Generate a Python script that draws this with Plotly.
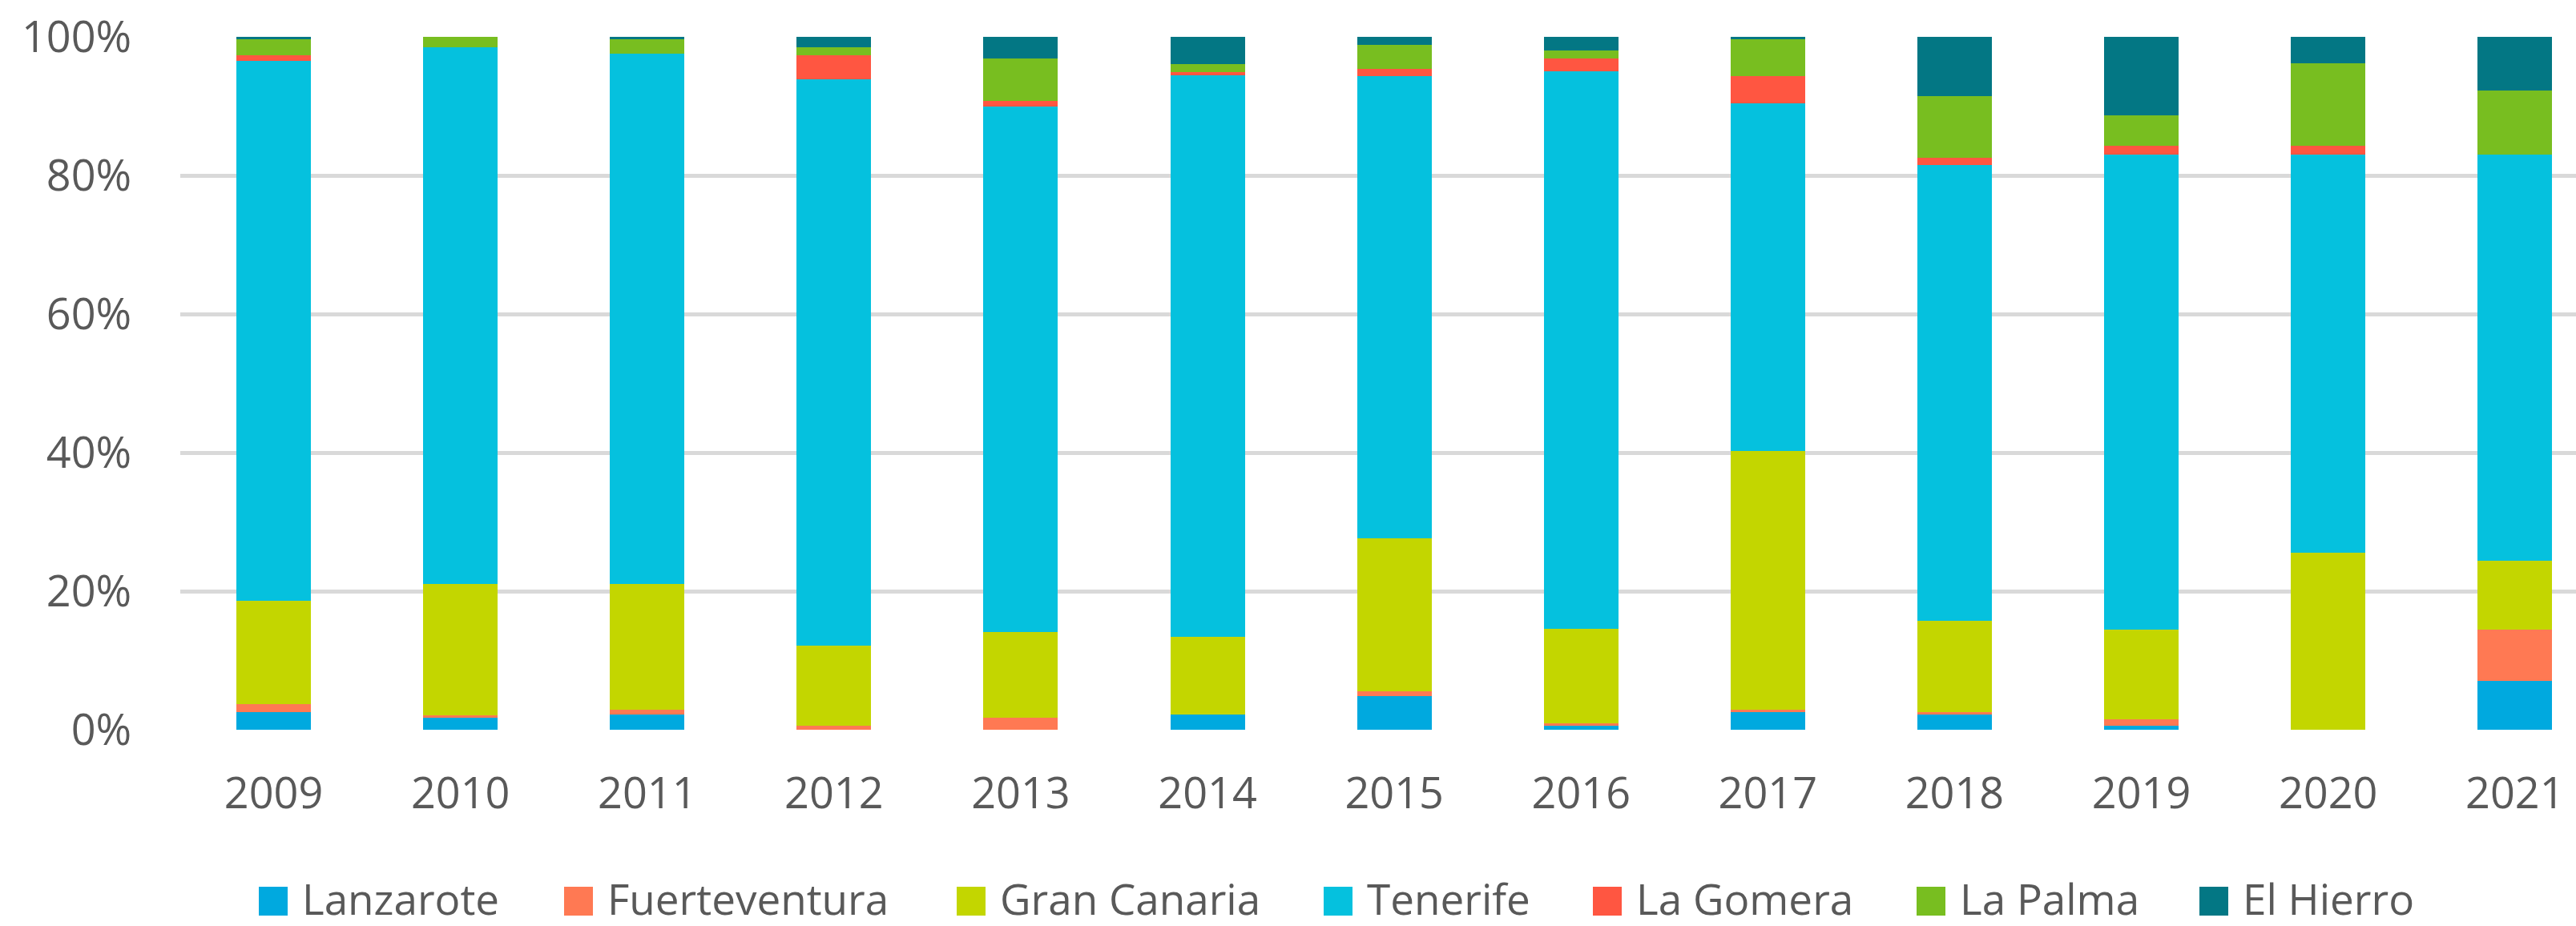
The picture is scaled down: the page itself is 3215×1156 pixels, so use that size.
import plotly.graph_objects as go

years = ["2009", "2010", "2011", "2012", "2013", "2014", "2015",
         "2016", "2017", "2018", "2019", "2020", "2021"]

islands = ["Lanzarote", "Fuerteventura", "Gran Canaria", "Tenerife",
           "La Gomera", "La Palma", "El Hierro"]

lanzarote = [2.5, 1.75, 2.2, 0, 0, 2.2, 4.85, 0.6, 2.5, 2.2, 0.6, 0, 7.1]
fuerteventura = [1.2, 0.35, 0.7, 0.6, 1.75, 0, 0.75, 0.35, 0.4, 0.4, 0.85, 0, 7.35]
gran_canaria = [14.9, 18.9, 18.1, 11.5, 12.35, 11.2, 22.0, 13.55, 37.3, 13.1, 13.05, 25.6, 9.95]
tenerife = [77.8, 77.5, 76.6, 81.7, 75.8, 81.1, 66.6, 80.4, 50.1, 65.75, 68.5, 57.4, 58.6]
la_gomera = [0.8, 0, 0, 3.4, 0.85, 0.4, 1.1, 1.9, 3.9, 1.1, 1.25, 1.25, 0]
la_palma = [2.3, 1.5, 2.0, 1.2, 6.1, 1.2, 3.4, 1.1, 5.3, 8.9, 4.4, 11.9, 9.2]
el_hierro = [0.4, 0, 0.4, 1.5, 3.15, 3.9, 1.2, 2.0, 0.4, 8.5, 11.3, 3.85, 7.8]

series = [lanzarote, fuerteventura, gran_canaria, tenerife, la_gomera, la_palma, el_hierro]

y_ticks = [0, 20, 40, 60, 80, 100]
y_tick_labels = ["0%", "20%", "40%", "60%", "80%", "100%"]

# styling
colors = ["#00A9DF", "#FF7953", "#C3D600", "#05C1DE", "#FF5641", "#78BE20", "#037784"]
FONT = "Open Sans"
TXT = "#595959"
W, H = 3215, 1156
PL, PR = 225, 3215          # plot area left/right in px
PT, PB = 46, 911            # plot area top/bottom in px
CAT_W = 233.1               # px per category

fig = go.Figure()
for name, vals, col in zip(islands, series, colors):
    fig.add_trace(go.Bar(x=years, y=vals, name=name, marker=dict(color=col, line=dict(width=0)),
                         showlegend=False))

x_right = (PR - PL) / CAT_W - 0.5

fig.update_layout(
    width=W, height=H,
    margin=dict(l=PL, r=W - PR, t=PT, b=H - PB, pad=0),
    barmode="stack", barnorm="percent", bargap=0.601,
    plot_bgcolor="white", paper_bgcolor="white",
    font=dict(family=FONT, size=54, color=TXT),
    xaxis=dict(type="category", range=[-0.5, x_right], showgrid=False, zeroline=False,
               showline=False, ticks="outside", ticklen=32, tickcolor="rgba(0,0,0,0)",
               tickfont=dict(family=FONT, size=54, color=TXT)),
    yaxis=dict(range=[0, 100], tickmode="array", tickvals=y_ticks, ticktext=y_tick_labels,
               showgrid=True, gridcolor="#D9D9D9", gridwidth=5, zeroline=False, showline=False,
               ticks="outside", ticklen=49, tickcolor="rgba(0,0,0,0)",
               tickfont=dict(family=FONT, size=54, color=TXT)),
)

# custom legend (large square swatches like the original)
legend_sq_left = [323, 704, 1194, 1652, 1988, 2392, 2745]
SQ = 36
LEG_CY = 1125
plot_w = PR - PL
plot_h = PB - PT

def px2x(px):
    return (px - PL) / plot_w

def px2y(py):
    return (PB - py) / plot_h

for name, col, sx in zip(islands, colors, legend_sq_left):
    fig.add_shape(type="rect", xref="paper", yref="paper",
                  x0=px2x(sx), x1=px2x(sx + SQ),
                  y0=px2y(LEG_CY + SQ / 2), y1=px2y(LEG_CY - SQ / 2),
                  fillcolor=col, line=dict(width=0))
    fig.add_annotation(xref="paper", yref="paper", x=px2x(sx + SQ + 16), y=px2y(LEG_CY - 4),
                       text=name, showarrow=False, xanchor="left", yanchor="middle",
                       font=dict(family=FONT, size=53, color=TXT))

fig.write_html("out.html", config={"displayModeBar": False},
               post_script="document.body.style.margin='0';document.body.style.overflow='hidden';")
